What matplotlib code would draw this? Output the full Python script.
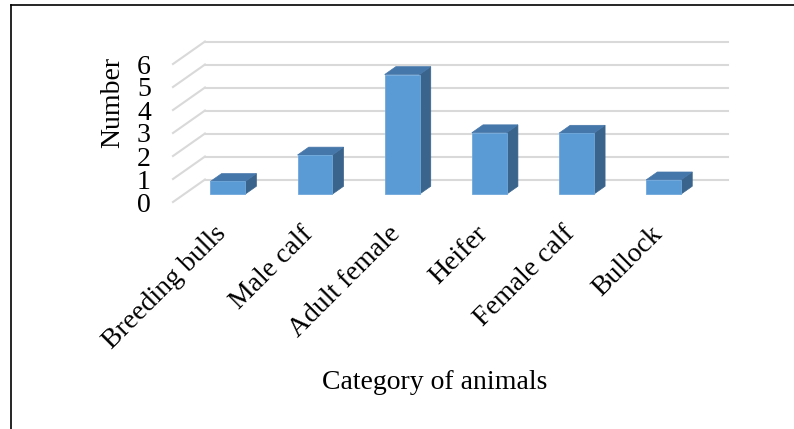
import matplotlib
matplotlib.use("Agg")
import matplotlib.pyplot as plt
from matplotlib.patches import Polygon
from matplotlib.lines import Line2D
from matplotlib.transforms import ScaledTranslation

categories = ["Breeding bulls", "Male calf", "Adult female", "Heifer", "Female calf", "Bullock"]
values = [0.55, 1.7, 5.2, 2.67, 2.65, 0.62]
y_ticks = [0, 1, 2, 3, 4, 5, 6]
x_title = "Category of animals"
y_title = "Number"

# pseudo-3D geometry (in data units of the front plane)
DEPTH_X = 0.367      # horizontal shift from front plane to back wall (categories)
DEPTH_Y = 0.978      # vertical shift from front plane to back wall (value units)
BAR_FRONT = 0.35     # fraction of depth where bar front faces sit
BAR_DEPTH = 0.35     # fraction of depth occupied by a bar
BAR_WIDTH = 0.40

FRONT_COLOR = "#5B9BD5"
TOP_COLOR = "#4677AA"
SIDE_COLOR = "#3A648C"
GRID_COLOR = "#D9D9D9"

plt.rcParams["font.family"] = ["Liberation Serif", "DejaVu Serif"]

W, H = 794, 429
fig = plt.figure(figsize=(W / 100, H / 100), dpi=100)

# axes covers the front plane: categories -0.5..5.5, values 0..6
left_px, right_px, zero_px, six_px = 173, 696, 202, 64
ax = fig.add_axes([left_px / W, 1 - zero_px / H,
                   (right_px - left_px) / W, (zero_px - six_px) / H])
n = len(categories)
ax.set_xlim(-0.5, n - 0.5)
ax.set_ylim(0, 6)
for s in ax.spines.values():
    s.set_visible(False)

# back wall + side wall gridlines
for v in y_ticks:
    bx0 = -0.5 + DEPTH_X
    by = v + DEPTH_Y
    ax.add_line(Line2D([bx0, n - 0.5 + DEPTH_X], [by, by], color=GRID_COLOR,
                       lw=1.5, clip_on=False, zorder=1))
    ax.add_line(Line2D([-0.5, bx0], [v, by], color=GRID_COLOR,
                       lw=1.5, clip_on=False, zorder=1))

# bars drawn as front, top and side faces
ox, oy = BAR_FRONT * DEPTH_X, BAR_FRONT * DEPTH_Y
dx, dy = BAR_DEPTH * DEPTH_X, BAR_DEPTH * DEPTH_Y
for i, v in enumerate(values):
    xl = i - BAR_WIDTH / 2 + ox
    xr = i + BAR_WIDTH / 2 + ox
    yb = oy
    yt = oy + v
    side = Polygon([(xr, yb), (xr + dx, yb + dy), (xr + dx, yt + dy), (xr, yt)],
                   closed=True, facecolor=SIDE_COLOR, edgecolor=SIDE_COLOR,
                   lw=0.5, clip_on=False, zorder=3)
    top = Polygon([(xl, yt), (xr, yt), (xr + dx, yt + dy), (xl + dx, yt + dy)],
                  closed=True, facecolor=TOP_COLOR, edgecolor=TOP_COLOR,
                  lw=0.5, clip_on=False, zorder=3)
    front = Polygon([(xl, yb), (xr, yb), (xr, yt), (xl, yt)],
                    closed=True, facecolor=FRONT_COLOR, edgecolor="#6FA8DC",
                    lw=0.6, clip_on=False, zorder=4)
    ax.add_patch(side)
    ax.add_patch(top)
    ax.add_patch(front)

ax.set_yticks(y_ticks)
ax.set_yticklabels([str(t) for t in y_ticks], fontsize=20)
ax.tick_params(axis="y", length=0, pad=16)

ax.set_xticks(range(n))
ax.set_xticklabels(categories, fontsize=20, rotation=45, ha="right",
                   rotation_mode="anchor")
ax.tick_params(axis="x", length=0, pad=14)
shift = ScaledTranslation(-3 / 100, 0, fig.dpi_scale_trans)
for lab in ax.get_xticklabels():
    lab.set_transform(lab.get_transform() + shift)

ax.set_ylabel(y_title, fontsize=20, rotation=90, va="center", ha="center")
ax.yaxis.set_label_coords((113 - left_px) / (right_px - left_px),
                          (zero_px - 102) / (zero_px - six_px))
ax.set_xlabel(x_title, fontsize=20, va="center", ha="center")
ax.xaxis.set_label_coords((435 - left_px) / (right_px - left_px),
                          (zero_px - 382) / (zero_px - six_px))

# outer frame (top and left edges)
fig.add_artist(Line2D([11 / W, 1.0], [1 - 5 / H, 1 - 5 / H],
                      transform=fig.transFigure, color="black", lw=1.2))
fig.add_artist(Line2D([11 / W, 11 / W], [0, 1 - 5 / H],
                      transform=fig.transFigure, color="black", lw=1.2))

fig.savefig("out.png", dpi=100)
